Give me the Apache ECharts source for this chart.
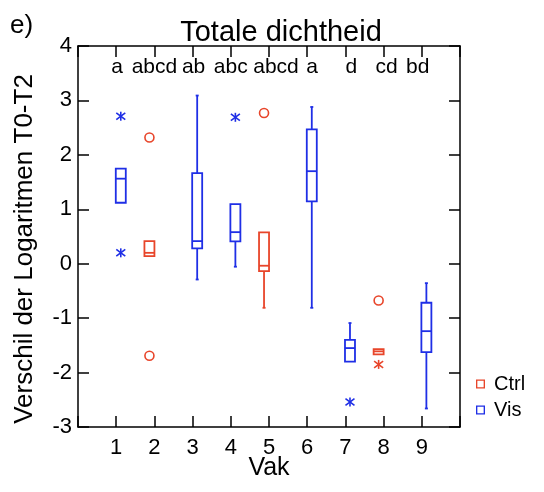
<!DOCTYPE html>
<html>
<head>
<meta charset="utf-8">
<script src="https://cdn.jsdelivr.net/npm/echarts@6/dist/echarts.min.js"></script>
<style>html,body{margin:0;padding:0;background:#fff}#c{width:544px;height:492px}</style>
</head>
<body>
<div id="c"></div>
<script>
// ---- data ----
const vakTicks = [1, 2, 3, 4, 5, 6, 7, 8, 9];
const groupLetters = ['a', 'abcd', 'ab', 'abc', 'abcd', 'a', 'd', 'cd', 'bd'];
// [vak, lowWhisker, Q1, median, Q3, highWhisker]
const ctrlBoxes = [
  [2, 0.14, 0.14, 0.20, 0.415, 0.415],
  [5, -0.81, -0.136, -0.037, 0.575, 0.575],
  [8, -1.667, -1.667, -1.61, -1.57, -1.57]
];
const visBoxes = [
  [1, 1.12, 1.12, 1.5625, 1.746, 1.746],
  [3, -0.29, 0.28, 0.415, 1.665, 3.09],
  [4, -0.055, 0.41, 0.58, 1.095, 1.095],
  [6, -0.81, 1.145, 1.70, 2.47, 2.88],
  [7, -1.80, -1.80, -1.55, -1.40, -1.09],
  [9, -2.66, -1.625, -1.239, -0.717, -0.357]
];
// outliers: [vak, value, kind] kind: 'o' = outlier circle, '*' = extreme
const ctrlOutliers = [
  [2, 2.32, 'o'], [2, -1.69, 'o'], [5, 2.77, 'o'], [8, -0.675, 'o'], [8, -1.85, '*']
];
const visOutliers = [
  [1, 2.71, '*'], [1, 0.20, '*'], [4, 2.69, '*'], [7, -2.54, '*']
];
const yTicks = [-3, -2, -1, 0, 1, 2, 3, 4];

// ---- style / layout ----
const RED = '#e8452a';
const BLUE = '#1f2fe6';
const FONT = 'Liberation Sans, Arial, Helvetica, sans-serif';
const OFF_CTRL = -0.13, OFF_VIS = 0.12;
const BOXW = 10;
const letterShiftPx = [1, 0, 1, 0, 7, 5, 6, 3, -4];

function boxRender(color, off) {
  return function (params, api) {
    const x = api.value(0) + off;
    const xc = api.coord([x, 0])[0];
    const y = v => api.coord([x, v])[1];
    const lo = y(api.value(1)), q1 = y(api.value(2)), md = y(api.value(3)),
          q3 = y(api.value(4)), hi = y(api.value(5));
    const st = { stroke: color, lineWidth: 1.8, fill: null };
    const ch = [];
    ch.push({ type: 'rect', shape: { x: xc - BOXW / 2, y: q3, width: BOXW, height: Math.max(q1 - q3, 1) }, style: Object.assign({}, st) });
    ch.push({ type: 'line', shape: { x1: xc - BOXW / 2, y1: md, x2: xc + BOXW / 2, y2: md }, style: Object.assign({}, st) });
    if (hi < q3 - 0.5) {
      ch.push({ type: 'line', shape: { x1: xc, y1: q3, x2: xc, y2: hi }, style: Object.assign({}, st) });
      ch.push({ type: 'line', shape: { x1: xc - 1.5, y1: hi, x2: xc + 1.5, y2: hi }, style: Object.assign({}, st) });
    }
    if (lo > q1 + 0.5) {
      ch.push({ type: 'line', shape: { x1: xc, y1: q1, x2: xc, y2: lo }, style: Object.assign({}, st) });
      ch.push({ type: 'line', shape: { x1: xc - 1.5, y1: lo, x2: xc + 1.5, y2: lo }, style: Object.assign({}, st) });
    }
    return { type: 'group', children: ch };
  };
}
function outRender(color, off, src) {
  return function (params, api) {
    const p = api.coord([api.value(0) + off, api.value(1)]);
    const kind = src[params.dataIndex][2];
    const st = { stroke: color, lineWidth: 1.6, fill: null };
    if (kind === 'o') {
      return { type: 'circle', shape: { cx: p[0], cy: p[1], r: 4.5 }, style: st };
    }
    const r = 4.5;
    return { type: 'group', children: [
      { type: 'line', shape: { x1: p[0] - r, y1: p[1] - r * 0.75, x2: p[0] + r, y2: p[1] + r * 0.75 }, style: Object.assign({}, st) },
      { type: 'line', shape: { x1: p[0] - r, y1: p[1] + r * 0.75, x2: p[0] + r, y2: p[1] - r * 0.75 }, style: Object.assign({}, st) },
      { type: 'line', shape: { x1: p[0], y1: p[1] - r, x2: p[0], y2: p[1] + r }, style: Object.assign({}, st) }
    ] };
  };
}

const hollow = 'path://M0,0 H10 V10 H0 Z M1.5,1.5 V8.5 H8.5 V1.5 Z';
const axLine = { onZero: false, lineStyle: { color: '#000', width: 1.5 } };
const axTick = { inside: true, length: 11, lineStyle: { color: '#000', width: 1.5 } };

const chart = echarts.init(document.getElementById('c'), null, { renderer: 'canvas' });
chart.setOption({
  backgroundColor: '#fff',
  animation: false,
  textStyle: { fontFamily: FONT },
  title: [
    { text: 'Totale dichtheid', left: 276, top: 13, textAlign: 'center',
      textStyle: { fontSize: 29, fontWeight: 'normal', color: '#000', fontFamily: FONT } },
    { text: 'e)', left: 5, top: 8,
      textStyle: { fontSize: 26, fontWeight: 'normal', color: '#000', fontFamily: FONT } }
  ],
  legend: {
    orient: 'vertical', left: 476, top: 374, padding: 0, itemWidth: 9, itemHeight: 9, itemGap: 6,
    textStyle: { fontSize: 20, color: '#000', fontFamily: FONT, padding: [0, 0, 0, 4] },
    data: [{ name: 'Ctrl', icon: hollow }, { name: 'Vis', icon: hollow }]
  },
  grid: { left: 78, right: 84, top: 46, bottom: 65, outerBoundsMode: 'none', containLabel: false },
  xAxis: [
    { type: 'value', min: 0, max: 10, interval: 1, position: 'bottom',
      name: 'Vak', nameLocation: 'middle', nameGap: 29, nameMoveOverlap: false,
      nameTextStyle: { fontSize: 25, color: '#000', fontFamily: FONT },
      axisLine: axLine, axisTick: axTick,
      axisLabel: { fontSize: 22, color: '#000', margin: 10,
        formatter: v => (vakTicks.indexOf(v) >= 0 ? String(v) : '') },
      splitLine: { show: false } },
    { type: 'value', min: 0, max: 10, interval: 1, position: 'top',
      axisLine: axLine, axisTick: axTick,
      axisLabel: { show: false },
      splitLine: { show: false } }
  ],
  yAxis: [
    { type: 'value', min: -3, max: 4, interval: 1, position: 'left',
      axisLine: axLine, axisTick: axTick,
      axisLabel: { fontSize: 22, color: '#000', margin: 6,
        formatter: v => (yTicks.indexOf(v) >= 0 ? String(v) : '') },
      splitLine: { show: false } },
    { type: 'value', min: -3, max: 4, interval: 1, position: 'right',
      axisLine: axLine, axisTick: axTick,
      axisLabel: { show: false },
      splitLine: { show: false } }
  ],
  series: [
    { name: 'Ctrl', type: 'custom', xAxisIndex: 0, yAxisIndex: 0, itemStyle: { color: RED },
      renderItem: boxRender(RED, OFF_CTRL), data: ctrlBoxes, encode: { x: 0, y: [1, 2, 3, 4, 5] } },
    { name: 'Vis', type: 'custom', xAxisIndex: 0, yAxisIndex: 0, itemStyle: { color: BLUE },
      renderItem: boxRender(BLUE, OFF_VIS), data: visBoxes, encode: { x: 0, y: [1, 2, 3, 4, 5] } },
    { name: 'Ctrl', type: 'custom', xAxisIndex: 0, yAxisIndex: 0, itemStyle: { color: RED },
      renderItem: outRender(RED, OFF_CTRL, ctrlOutliers), data: ctrlOutliers.map(d => [d[0], d[1]]), encode: { x: 0, y: 1 } },
    { name: 'Vis', type: 'custom', xAxisIndex: 0, yAxisIndex: 0, itemStyle: { color: BLUE },
      renderItem: outRender(BLUE, OFF_VIS, visOutliers), data: visOutliers.map(d => [d[0], d[1]]), encode: { x: 0, y: 1 } }
  ]
});

// group letters along the top, positioned through the x axis scale
const topY = chart.convertToPixel({ yAxisIndex: 0 }, 4);
const gfx = [
  { type: 'text', x: 25, y: 249, rotation: Math.PI / 2,
    style: { text: 'Verschil der Logaritmen T0-T2', fontSize: 26, fontFamily: FONT, fill: '#000',
      align: 'center', verticalAlign: 'middle' } }
];
vakTicks.forEach((v, i) => {
  gfx.push({ type: 'text', x: chart.convertToPixel({ xAxisIndex: 0 }, v) + letterShiftPx[i], y: topY + 21,
    style: { text: groupLetters[i], fontSize: 21, fontFamily: FONT, fill: '#000',
      align: 'center', verticalAlign: 'middle' } });
});
chart.setOption({ graphic: gfx });
</script>
</body>
</html>
